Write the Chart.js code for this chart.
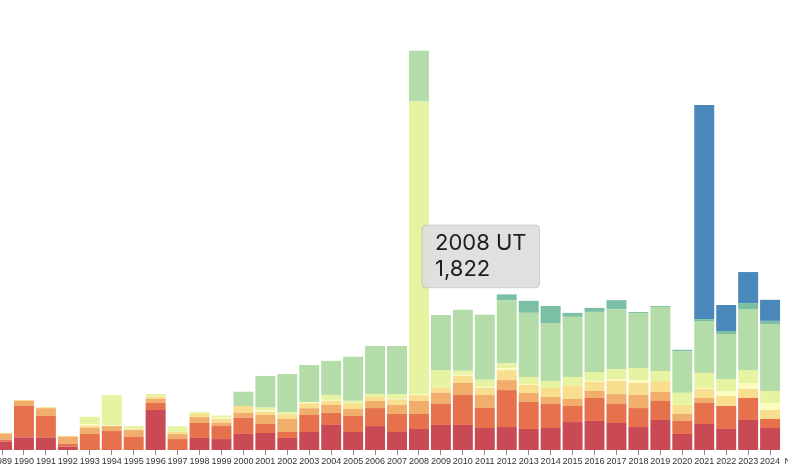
<!DOCTYPE html>
<html>
<head>
<meta charset="utf-8">
<script src="https://cdn.jsdelivr.net/npm/chart.js@4/dist/chart.umd.min.js"></script>
<style>
  html, body { margin: 0; padding: 0; background: #fff; overflow: hidden; }
  #wrap { position: absolute; left: -9px; top: 0; width: 812px; height: 470px; }
</style>
</head>
<body>
<div id="wrap"><canvas id="chart"></canvas></div>
<script>
// years along the x axis (the last one is cut off at the right edge)
const years = ['1989','1990','1991','1992','1993','1994','1995','1996','1997','1998',
  '1999','2000','2001','2002','2003','2004','2005','2006','2007','2008',
  '2009','2010','2011','2012','2013','2014','2015','2016','2017','2018',
  '2019','2020','2021','2022','2023','2024','N/A'];

// series names, bottom of the stack first
const seriesNames = ['Group 1','Group 2','Group 3','Group 4','Group 5','UT','Group 7','Group 8','Group 9'];
const seriesColors = ['#c94a54','#e5724d','#f0ad6b','#f8de8e','#fdfbc0','#e6f4a2','#b4dca8','#7bbfa5','#4a87ba'];

const group1 = [52,79,79,21,0,0,0,249,0,75,68,100,106,75,112,156,112,149,112,131,156,156,137,143,131,137,174,181,168,143,187,100,162,131,187,137,null];
const group2 = [12,195,133,17,100,118,81,44,68,93,81,101,56,37,106,75,100,112,112,93,131,187,125,230,168,149,100,143,118,118,118,81,131,143,137,56,null];
const group3 = [37,31,48,44,39,31,45,25,31,37,21,31,56,81,42,50,44,44,56,81,70,75,81,62,56,44,44,44,62,81,56,44,31,0,0,0,null];
const group4 = [6,6,6,6,12,0,0,14,14,19,25,42,19,29,31,25,31,25,35,37,31,44,44,62,50,56,81,56,83,75,68,56,56,62,56,56,null];
const group5 = [0,0,0,0,8,6,4,0,0,0,6,0,8,0,8,6,0,0,4,6,0,6,6,12,6,0,0,6,8,19,0,0,6,31,37,44,null];
const groupUT = [0,0,0,0,48,187,19,17,35,12,14,0,19,14,0,31,19,19,29,1822,110,25,44,31,44,44,56,56,64,75,62,75,93,75,81,75,null];
const group7 = [0,0,0,0,0,0,0,0,0,0,0,89,197,237,230,212,274,299,299,316,342,380,405,392,399,361,374,374,374,342,399,260,324,280,380,417,null];
const group8 = [0,0,0,0,0,0,0,0,0,0,0,0,0,0,0,0,0,0,0,0,0,0,0,37,75,106,25,25,56,6,6,8,12,19,37,19,null];
const group9 = [0,0,0,0,0,0,0,0,0,0,0,0,0,0,0,0,0,0,0,0,0,0,0,0,0,0,0,0,0,0,0,0,1333,162,193,131,null];

const seriesValues = [group1, group2, group3, group4, group5, groupUT, group7, group8, group9];

const datasets = seriesValues.map((values, i) => ({
    label: seriesNames[i],
    data: values,
    backgroundColor: seriesColors[i],
    borderWidth: 0,
    barPercentage: 0.91,
    categoryPercentage: 1.0
}));

// tooltip sits in a fixed spot, like the screenshot
Chart.Tooltip.positioners.fixedSpot = function () {
    return { x: 435, y: 225 };
};

const ctx = document.getElementById('chart').getContext('2d');
const chart = new Chart(ctx, {
    type: 'bar',
    data: { labels: years, datasets: datasets },
    options: {
        responsive: true,
        maintainAspectRatio: false,
        animation: false,
        events: [],
        layout: { padding: 0 },
        scales: {
            x: {
                stacked: true,
                offset: true,
                grid: { drawOnChartArea: false, drawTicks: true, tickLength: 5, color: '#8a8a8a', offset: false },
                border: { display: false },
                ticks: {
                    autoSkip: false,
                    maxRotation: 0,
                    padding: 1,
                    color: '#333',
                    font: { family: 'Liberation Sans', size: 9 }
                },
                afterFit: (scale) => { scale.height = 20; }
            },
            y: {
                stacked: true,
                display: false,
                min: 0,
                max: 2802
            }
        },
        plugins: {
            legend: { display: false },
            tooltip: {
                enabled: true,
                position: 'fixedSpot',
                xAlign: 'left',
                yAlign: 'top',
                caretSize: 0,
                caretPadding: 0,
                cornerRadius: 4,
                backgroundColor: 'rgba(224,223,222,0.96)',
                borderColor: 'rgba(0,0,0,0.13)',
                borderWidth: 1,
                titleColor: '#1e1e1e',
                bodyColor: '#1e1e1e',
                titleFont: { family: 'Inter', size: 22, weight: 'normal' },
                bodyFont: { family: 'Inter', size: 22 },
                titleMarginBottom: 0,
                padding: { top: 5, bottom: 5, left: 13, right: 13 },
                displayColors: false,
                callbacks: {
                    title: items => `${items[0].label} ${items[0].dataset.label}`,
                    label: item => item.formattedValue
                }
            }
        }
    }
});

// show the tooltip for 2008 UT, as in the reference
chart.tooltip.setActiveElements([{ datasetIndex: 5, index: years.indexOf('2008') }], { x: 435, y: 225 });
chart.update();
</script>
</body>
</html>
